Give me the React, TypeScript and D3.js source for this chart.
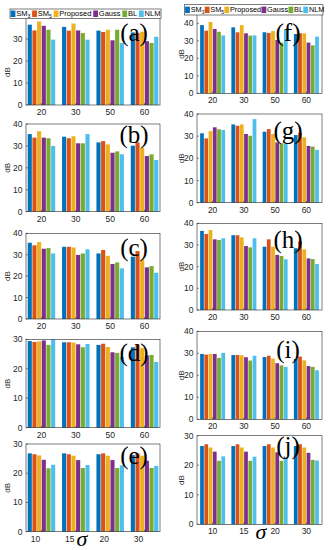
import React, { useEffect, useRef } from 'react';
import * as d3 from 'd3';

// series and categories
const seriesNames = ['SM3', 'SM5', 'Proposed', 'Gauss', 'BL', 'NLM'];
const colors = ['#0072BD', '#D95319', '#EDB120', '#7E2F8E', '#77AC30', '#4DBEEE'];
const noiseLevels = ['20', '30', '50', '60'];
const sigmaLevels = ['10', '15', '20', '30'];

// dB values, one row per category, one column per series
const valuesA = [
  [36.5, 33.9, 38.0, 36.0, 34.2, 29.7],
  [35.5, 33.8, 37.0, 33.9, 32.7, 29.7],
  [33.8, 33.2, 34.2, 29.4, 34.2, 28.2],
  [33.0, 32.8, 33.3, 29.0, 28.2, 31.0],
];
const valuesB = [
  [35.4, 33.8, 36.7, 33.8, 33.5, 30.0],
  [34.2, 33.5, 34.4, 31.2, 31.2, 35.4],
  [31.6, 32.2, 30.7, 26.9, 27.5, 26.2],
  [30.1, 31.6, 29.2, 25.4, 26.2, 23.6],
];
const valuesC = [
  [35.6, 34.4, 35.9, 32.8, 33.1, 30.6],
  [33.7, 33.7, 33.4, 29.9, 30.6, 32.5],
  [30.6, 32.2, 29.5, 25.7, 26.4, 23.6],
  [29.1, 31.7, 27.8, 24.1, 24.7, 21.6],
];
const valuesD = [
  [29.4, 29.1, 29.3, 29.6, 28.1, 30.0],
  [29.0, 29.0, 28.9, 28.3, 27.3, 28.4],
  [28.1, 28.5, 27.4, 25.6, 25.4, 24.0],
  [27.3, 28.2, 27.0, 24.5, 24.7, 22.3],
];
const valuesE = [
  [26.8, 26.5, 26.1, 24.6, 21.7, 22.9],
  [26.8, 26.5, 26.0, 24.5, 21.8, 22.8],
  [26.5, 26.8, 26.0, 24.5, 21.8, 22.7],
  [26.2, 26.8, 26.0, 24.3, 21.8, 22.5],
];
const valuesF = [
  [39.0, 35.8, 40.8, 36.8, 35.2, 33.1],
  [37.7, 34.9, 39.0, 34.3, 33.0, 33.1],
  [34.9, 34.5, 35.6, 30.5, 29.0, 36.4],
  [33.9, 34.3, 34.3, 29.0, 27.4, 32.4],
];
const valuesG = [
  [31.3, 29.0, 32.3, 34.0, 33.1, 32.8],
  [35.3, 34.7, 35.3, 31.0, 30.2, 37.7],
  [32.0, 33.2, 31.0, 27.2, 26.8, 26.5],
  [30.5, 31.6, 29.5, 25.6, 25.3, 23.8],
];
const valuesH = [
  [36.5, 35.1, 36.9, 32.6, 32.3, 33.1],
  [34.5, 34.5, 33.5, 29.5, 28.9, 33.1],
  [29.2, 32.6, 29.2, 25.4, 24.9, 23.4],
  [28.5, 31.7, 28.0, 23.8, 23.5, 21.2],
];
const valuesI = [
  [29.7, 29.4, 29.7, 29.7, 27.9, 30.2],
  [29.2, 29.2, 29.1, 28.2, 26.7, 28.9],
  [28.3, 28.9, 27.6, 25.5, 24.5, 23.8],
  [27.4, 28.5, 26.8, 24.2, 23.8, 22.3],
];
const valuesJ = [
  [26.5, 27.1, 26.0, 24.6, 21.5, 23.0],
  [26.5, 27.1, 26.0, 24.6, 21.5, 22.9],
  [26.5, 27.1, 26.0, 24.4, 21.5, 22.7],
  [26.5, 27.1, 26.0, 24.2, 21.8, 21.6],
];

const ticks40 = [0, 10, 20, 30, 40];
const ticks30 = [0, 10, 20, 30];

const columns = [
  { range: [26, 160], padOuter: 0.05, dbX: 7, letterX: 134 },
  { range: [197, 322], padOuter: 0.1, dbX: 181, letterX: 288 },
];

const panels = [
  { letter: '(a)', values: valuesA, cats: noiseLevels, col: 0, top: 17, bottom: 105, ymax: 40, ticks: ticks30, letterY: 40.5, dbY: 72 },
  { letter: '(b)', values: valuesB, cats: noiseLevels, col: 0, top: 124, bottom: 211.7, ymax: 40, ticks: ticks40, letterY: 142.5 },
  { letter: '(c)', values: valuesC, cats: noiseLevels, col: 0, top: 233.3, bottom: 319, ymax: 40, ticks: ticks40, letterY: 255.5 },
  { letter: '(d)', values: valuesD, cats: noiseLevels, col: 0, top: 339.3, bottom: 427.7, ymax: 30, ticks: ticks30, letterY: 360.5 },
  { letter: '(e)', values: valuesE, cats: sigmaLevels, col: 0, top: 444, bottom: 531.7, ymax: 30, ticks: ticks30, letterY: 463.5, sigma: [82, 546], labelShift: -6 },
  { letter: '(f)', values: valuesF, cats: noiseLevels, col: 1, top: 14.6, bottom: 93.3, ymax: 45, ticks: ticks40, letterY: 40.5 },
  { letter: '(g)', values: valuesG, cats: noiseLevels, col: 1, top: 114, bottom: 202.7, ymax: 40, ticks: ticks40, letterY: 138.5 },
  { letter: '(h)', values: valuesH, cats: noiseLevels, col: 1, top: 223.3, bottom: 310, ymax: 40, ticks: ticks40, letterY: 248 },
  { letter: '(i)', values: valuesI, cats: noiseLevels, col: 1, top: 331.3, bottom: 419.3, ymax: 40, ticks: ticks40, letterY: 357.5 },
  { letter: '(j)', values: valuesJ, cats: sigmaLevels, col: 1, top: 435.7, bottom: 524.3, ymax: 30, ticks: ticks30, letterY: 454, sigma: [261, 539] },
];

const legends = [
  { x: 10, y: 9, width: 151, height: 9.5, fontSize: 7.5 },
  { x: 184.5, y: 4.7, width: 138.5, height: 10.3, fontSize: 7.3 },
];

const sans = "'Liberation Sans', Arial, sans-serif";
const serif = "'Liberation Serif', 'Times New Roman', serif";
const axisColor = '#262626';

function drawPanel(svg: any, p: any) {
  const c = columns[p.col];
  const x = d3.scaleBand<string>().domain(p.cats).range(c.range as [number, number])
    .paddingInner(0.2).paddingOuter(c.padOuter);
  const xs = d3.scaleBand<number>().domain(d3.range(seriesNames.length)).range([0, x.bandwidth()])
    .paddingInner(0.12);
  const y = d3.scaleLinear().domain([0, p.ymax]).range([p.bottom, p.top]);

  const g = svg.append('g');

  const groups = g.selectAll('g.grp')
    .data(p.values)
    .enter().append('g')
    .attr('class', 'grp')
    .attr('transform', (_d: number[], i: number) => `translate(${x(p.cats[i])},0)`);

  groups.selectAll('rect')
    .data((d: number[]) => d)
    .enter().append('rect')
    .attr('x', (_d: number, i: number) => xs(i))
    .attr('width', xs.bandwidth())
    .attr('y', (d: number) => y(d))
    .attr('height', (d: number) => y(0) - y(d))
    .attr('fill', (_d: number, i: number) => colors[i]);

  const [x0, x1] = c.range;
  // box
  g.append('rect')
    .attr('x', x0).attr('y', p.top)
    .attr('width', x1 - x0).attr('height', p.bottom - p.top)
    .attr('fill', 'none').attr('stroke', axisColor).attr('stroke-width', 0.6);

  // y ticks
  p.ticks.forEach((t: number) => {
    g.append('line')
      .attr('x1', x0).attr('x2', x0 + 1.8)
      .attr('y1', y(t)).attr('y2', y(t))
      .attr('stroke', axisColor).attr('stroke-width', 0.6);
    g.append('text')
      .attr('x', x0 - 3.5).attr('y', y(t))
      .attr('dy', '0.35em')
      .attr('text-anchor', 'end')
      .attr('font-family', sans).attr('font-size', 8.5)
      .attr('fill', axisColor)
      .text(t);
  });

  // x ticks
  const shift = p.labelShift ?? 0;
  p.cats.forEach((cat: string) => {
    const cx = (x(cat) as number) + x.bandwidth() / 2;
    g.append('line')
      .attr('x1', cx).attr('x2', cx)
      .attr('y1', p.bottom).attr('y2', p.bottom - 1.8)
      .attr('stroke', axisColor).attr('stroke-width', 0.6);
    g.append('text')
      .attr('x', cx + shift).attr('y', p.bottom + 10)
      .attr('text-anchor', 'middle')
      .attr('font-family', sans).attr('font-size', 8.5)
      .attr('fill', axisColor)
      .text(cat);
  });

  // ylabel
  const dbY = p.dbY ?? (p.top + p.bottom) / 2;
  g.append('text')
    .attr('transform', `translate(${c.dbX},${dbY}) rotate(-90)`)
    .attr('dy', '0.35em')
    .attr('text-anchor', 'middle')
    .attr('font-family', sans).attr('font-size', 8)
    .attr('fill', axisColor)
    .text('dB');

  // panel letter
  g.append('text')
    .attr('x', c.letterX).attr('y', p.letterY)
    .attr('text-anchor', 'middle')
    .attr('font-family', serif).attr('font-size', 25)
    .attr('fill', '#000')
    .text(p.letter);

  if (p.sigma) {
    g.append('text')
      .attr('x', p.sigma[0]).attr('y', p.sigma[1])
      .attr('text-anchor', 'middle')
      .attr('font-family', serif).attr('font-style', 'italic').attr('font-size', 22)
      .attr('fill', '#000')
      .text('σ');
  }
}

function drawLegend(svg: any, l: any) {
  const g = svg.append('g');
  g.append('rect')
    .attr('x', l.x).attr('y', l.y)
    .attr('width', l.width).attr('height', l.height)
    .attr('fill', '#fff').attr('stroke', axisColor).attr('stroke-width', 0.6);

  const texts = seriesNames.map((name) => {
    const t = g.append('text')
      .attr('font-family', sans).attr('font-size', l.fontSize)
      .attr('fill', '#000')
      .attr('y', l.y + l.height / 2 + l.fontSize * 0.33);
    const m = name.match(/^SM(\d)$/);
    if (m) {
      t.append('tspan').text('SM');
      t.append('tspan').attr('font-size', l.fontSize * 0.68).attr('dy', 1.6).text(m[1]);
    } else {
      t.text(name);
    }
    return t;
  });
  const widths = texts.map((t: any) => (t.node() as SVGTextElement).getComputedTextLength());
  const sw = 4.8, gapIn = 0.8, pad = 0.6;
  const used = d3.sum(widths) + seriesNames.length * (sw + gapIn);
  const gap = Math.max(0.3, (l.width - 2 * pad - used) / (seriesNames.length - 1));
  let cx = l.x + pad;
  seriesNames.forEach((_n, i) => {
    g.append('rect')
      .attr('x', cx).attr('y', l.y + (l.height - 6.5) / 2)
      .attr('width', sw).attr('height', 6.5)
      .attr('fill', colors[i]);
    texts[i].attr('x', cx + sw + gapIn);
    cx += sw + gapIn + widths[i] + gap;
  });
}

export default function App() {
  const ref = useRef<SVGSVGElement>(null);

  useEffect(() => {
    const svg = d3.select(ref.current);
    svg.selectAll('*').remove();
    panels.forEach((p) => drawPanel(svg, p));
    legends.forEach((l) => drawLegend(svg, l));
  }, []);

  return (
    <svg
      ref={ref}
      width={328}
      height={550}
      style={{ position: 'absolute', left: 0, top: 0, background: '#fff', display: 'block' }}
    />
  );
}
